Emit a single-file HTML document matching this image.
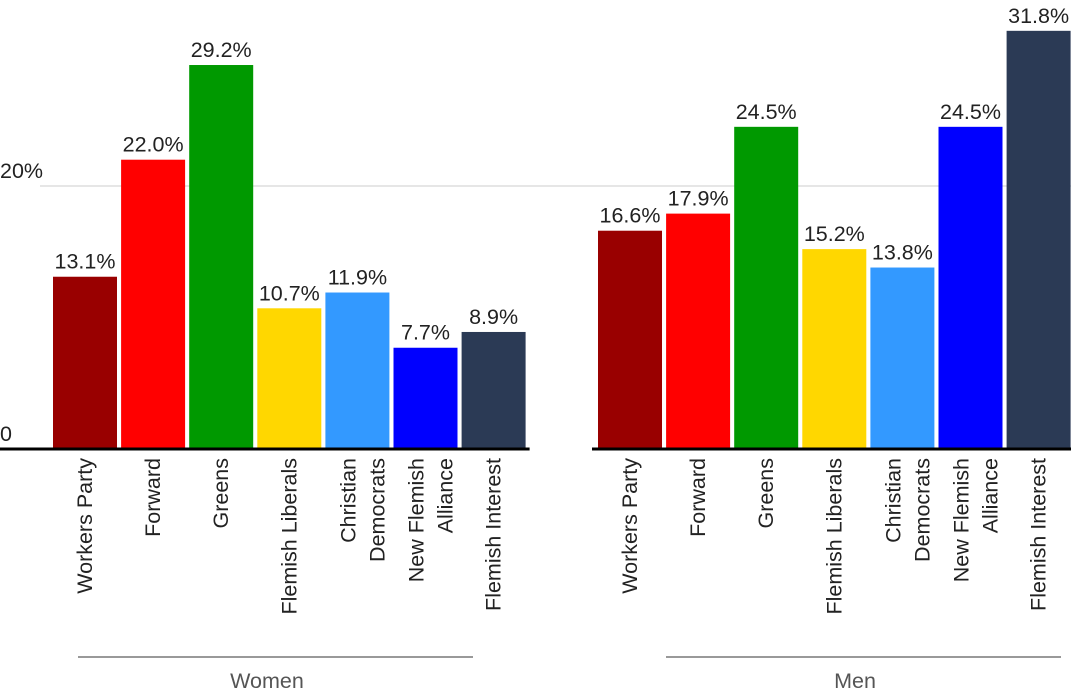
<!DOCTYPE html>
<html><head><meta charset="utf-8"><style>
body{margin:0;background:#fff;}
svg{display:block;font-family:"Liberation Sans",sans-serif;}
</style></head><body>
<svg id="chart" width="1071" height="691" viewBox="0 0 1071 691" xmlns="http://www.w3.org/2000/svg"></svg>
<script>
const categories = [["Workers Party"],["Forward"],["Greens"],["Flemish Liberals"],["Christian","Democrats"],["New Flemish","Alliance"],["Flemish Interest"]];
const groups = ["Women","Men"];
const womenValues = [13.1,22.0,29.2,10.7,11.9,7.7,8.9];
const menValues = [16.6,17.9,24.5,15.2,13.8,24.5,31.8];
const colors = ["#990000","#ff0000","#009900","#ffd700","#3399ff","#0000ff","#2b3a55"];
const yTicks = [0,20];
const NS="http://www.w3.org/2000/svg";
const svg=document.getElementById('chart');
const baseY=449, pxPer=13.15, FS=21.5;
const y=v=>baseY-v*pxPer;
const groupStart=[53,598], step=68.1, bw=64;
function mk(tag,attrs,parent){const e=document.createElementNS(NS,tag);for(const k in attrs)e.setAttribute(k,attrs[k]);(parent||svg).appendChild(e);return e;}
yTicks.forEach(t=>{
  if(t>0){const l=mk('line',{x1:40,x2:1071,y1:y(t),y2:y(t),stroke:'#ccc','stroke-width':1});
  
  }
  const tx=mk('text',{x:0,y:y(t)-8,'font-size':FS,fill:'#222'});
  tx.textContent=t===0?'0':t+'%';
  
  
});
[womenValues,menValues].forEach((vals,g)=>{
  vals.forEach((v,i)=>{
    const x=groupStart[g]+i*step;
    const r=mk('rect',{x:x,y:y(v),width:bw,height:baseY-y(v),fill:colors[i]});
    
    
    const t=mk('text',{x:x+bw/2,y:y(v)-8,'text-anchor':'middle','font-size':FS,fill:'#222'});
    t.textContent=v.toFixed(1)+'%';
    
    
    const lines=categories[i];
    lines.forEach((ln,j)=>{
      const cx=x+bw/2+(lines.length===1?7:(j===0?-2:27));
      const c=mk('text',{transform:`translate(${cx},458) rotate(-90)`,'text-anchor':'end','font-size':FS,fill:'#222'});
      c.textContent=ln;
      
      
    });
  });
  const x0=groupStart[g]-2, x1=groupStart[g]+6*step+bw+2;
  const b=mk('line',{x1:g===0?0:x0-4,x2:g===0?x1+2:1071,y1:baseY,y2:baseY,stroke:'#000','stroke-width':3});
  
  
  const gx=[78,666][g];
  const gl=mk('line',{x1:gx,x2:gx+395,y1:657,y2:657,stroke:'#333','stroke-width':1});
  
  
  const gt=mk('text',{x:gx+189,y:688,'text-anchor':'middle','font-size':FS,fill:'#555'});
  gt.textContent=groups[g];
  
  
});
</script>
</body></html>
